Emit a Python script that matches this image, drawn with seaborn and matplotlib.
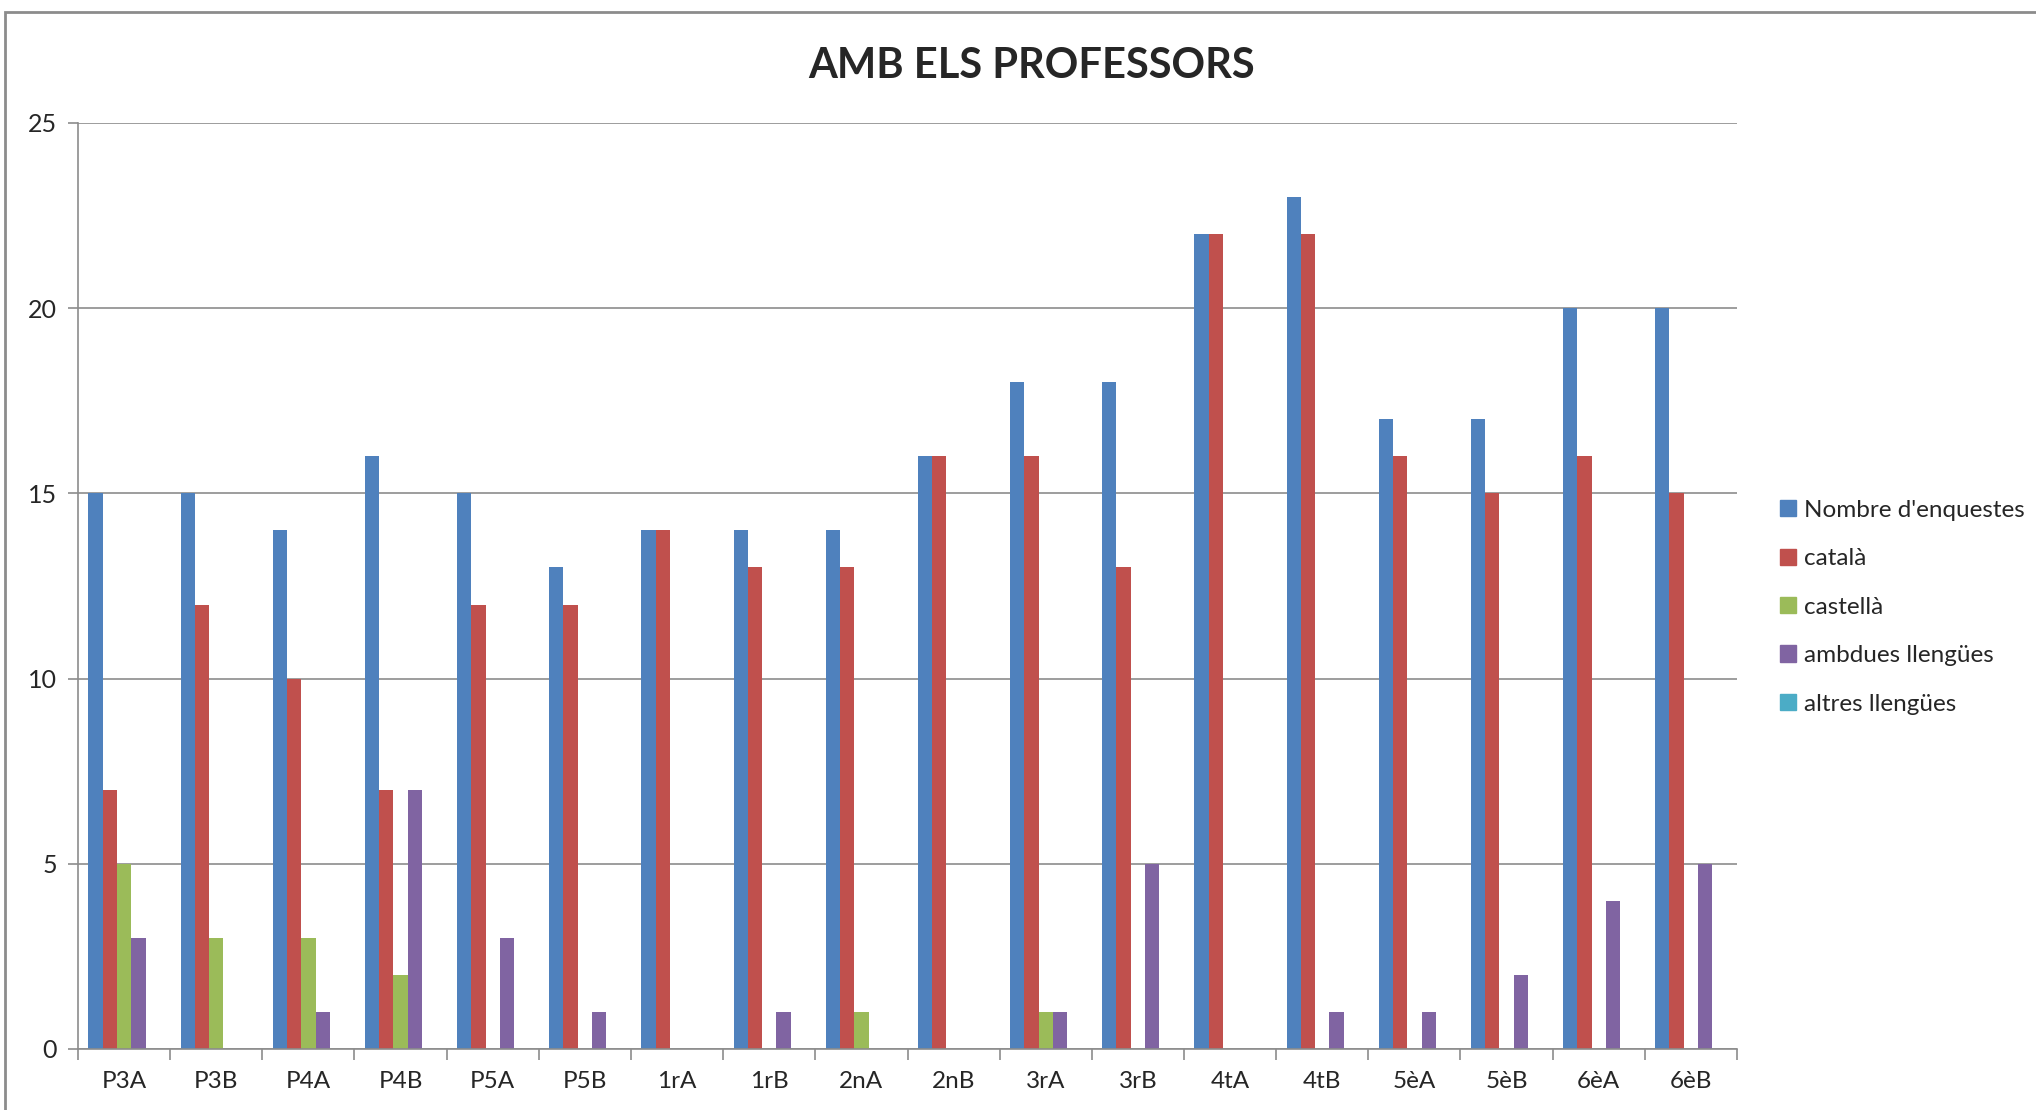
import numpy as np
import pandas as pd
import matplotlib
matplotlib.use("Agg")
import matplotlib.pyplot as plt
import seaborn as sns
from matplotlib.patches import Rectangle

# chart values
groups = ["P3A", "P3B", "P4A", "P4B", "P5A", "P5B", "1rA", "1rB", "2nA",
          "2nB", "3rA", "3rB", "4tA", "4tB", "5èA", "5èB", "6èA", "6èB"]
nombre = [15, 15, 14, 16, 15, 13, 14, 14, 14, 16, 18, 18, 22, 23, 17, 17, 20, 20]
catala = [7, 12, 10, 7, 12, 12, 14, 13, 13, 16, 16, 13, 22, 22, 16, 15, 16, 15]
castella = [5, 3, 3, 2, 0, 0, 0, 0, 1, 0, 1, 0, 0, 0, 0, 0, 0, 0]
ambdues = [3, 0, 1, 7, 3, 1, 0, 1, 0, 0, 1, 5, 0, 1, 1, 2, 4, 5]
altres = [0] * 18

series_names = ["Nombre d'enquestes", "català", "castellà",
                "ambdues llengües", "altres llengües"]
series_values = [nombre, catala, castella, ambdues, altres]
colors = ["#4F81BD", "#C0504D", "#9BBB59", "#8064A2", "#4BACC6"]

df = pd.DataFrame({
    "grup": groups * len(series_names),
    "serie": np.repeat(series_names, len(groups)),
    "valor": np.concatenate(series_values),
})

sns.set_style("white")
plt.rcParams["font.family"] = ["Lato", "DejaVu Sans"]

fig = plt.figure(figsize=(20.36, 11.1), dpi=100)
W, H = 2036, 1110
ax = fig.add_axes([78 / W, 1 - 1049 / H, (1737 - 78) / W, (1049 - 123) / H])

sns.barplot(data=df, x="grup", y="valor", hue="serie", order=groups,
            hue_order=series_names, palette=colors, width=0.775, gap=0,
            linewidth=0, saturation=1, ax=ax, errorbar=None)

ax.set_ylim(0, 25)
ax.set_xlim(-0.5, len(groups) - 0.5)
ax.set_yticks([0, 5, 10, 15, 20, 25])
ax.yaxis.grid(True, color="#8c8c8c", linewidth=1.2)
ax.set_axisbelow(True)
ax.set_xlabel("")
ax.set_ylabel("")

for side in ["top", "right"]:
    ax.spines[side].set_visible(False)
for side in ["left", "bottom"]:
    ax.spines[side].set_color("#8c8c8c")
    ax.spines[side].set_linewidth(1.2)

ax.tick_params(axis="y", direction="out", length=7, width=1.2, color="#8c8c8c",
               labelsize=18, pad=8, left=True)
ax.tick_params(axis="x", which="major", length=0, labelsize=17.5, pad=16)
ax.set_xticks(np.arange(-0.5, len(groups)), minor=True)
ax.tick_params(axis="x", which="minor", direction="out", length=8, width=1.2,
               color="#8c8c8c", bottom=True)

fig.text(1032 / W, 1 - 66 / H, "AMB ELS PROFESSORS", ha="center", va="center",
         fontsize=30, fontweight="bold")

ax.legend_.remove()
handles = [Rectangle((0, 0), 1, 1, color=c) for c in colors]
fig.legend(handles, series_names, loc="upper left",
           bbox_to_anchor=(1770 / W, 1 - 490 / H), frameon=False,
           fontsize=17.5, handlelength=0.65, handleheight=0.65,
           handletextpad=0.35, labelspacing=1.13, borderaxespad=0)

fig.patches.append(Rectangle((5 / W, -0.1), 1.1, 1 - 12 / H + 0.1,
                             transform=fig.transFigure, fill=False,
                             edgecolor="#8c8c8c", linewidth=2))

fig.savefig("out.png", dpi=100, facecolor="white")
